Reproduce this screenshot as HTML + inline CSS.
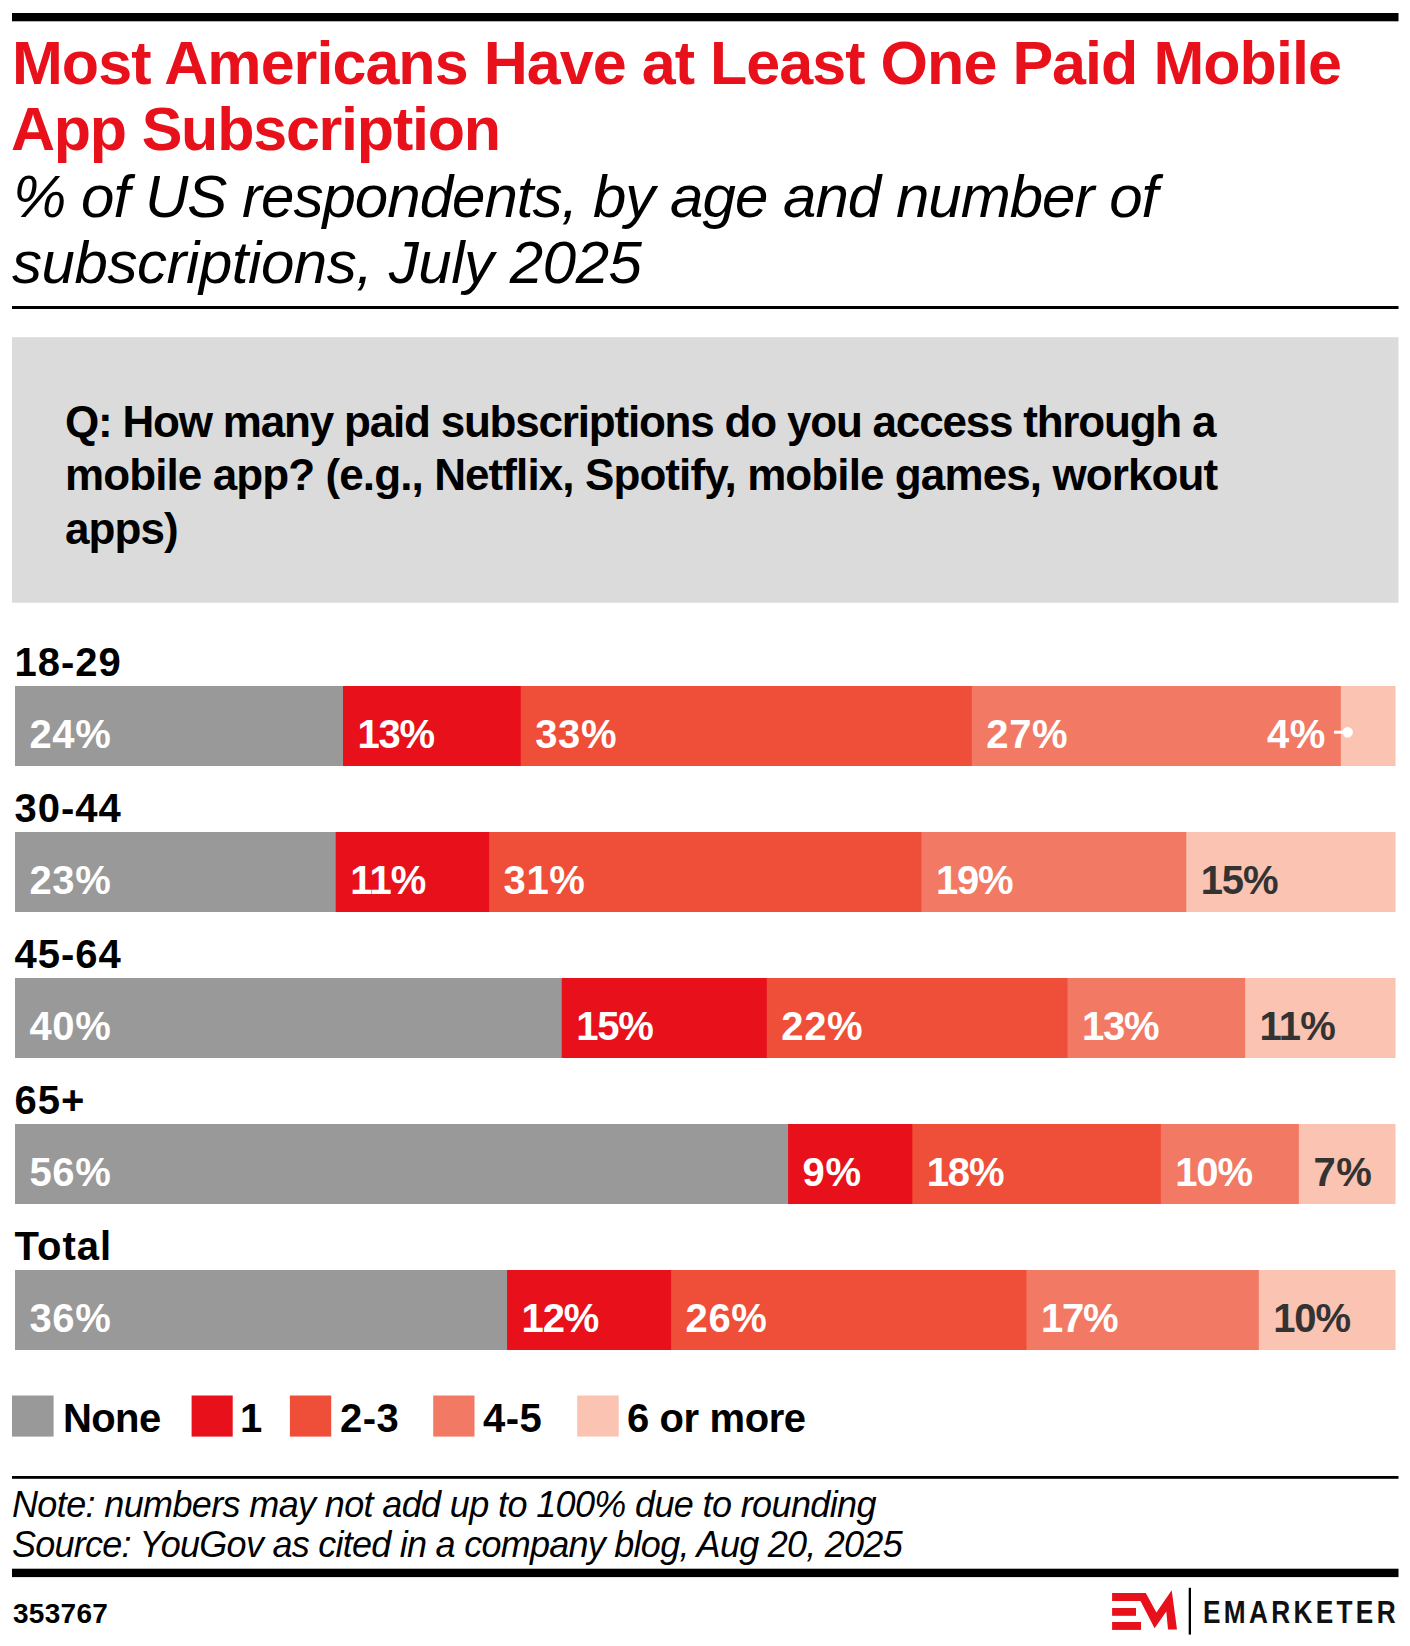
<!DOCTYPE html>
<html><head><meta charset="utf-8">
<style>
html,body{margin:0;padding:0;background:#fff;}
body{width:1410px;height:1646px;position:relative;overflow:hidden;font-family:"Liberation Sans",sans-serif;}
.t{position:absolute;white-space:nowrap;line-height:1;}
svg{position:absolute;left:0;top:0;}
.title{font-weight:bold;font-size:61px;color:#E8111B;}
.sub{font-style:italic;font-size:60px;color:#000;}
.q{font-weight:bold;font-size:44px;color:#000;}
.rl{font-weight:bold;font-size:40px;color:#000;left:14.5px;letter-spacing:1px;}
.vl{font-weight:bold;font-size:40px;color:#fff;letter-spacing:0.6px;}
.vl.dk{color:#333;}
.lg{font-weight:bold;font-size:40px;color:#000;top:1398.1px;}
.note{font-style:italic;font-size:36px;color:#000;left:12px;}
.id{font-weight:bold;font-size:28px;color:#000;left:13px;top:1600.2px;letter-spacing:0.3px;}
.em{font-weight:bold;font-size:30.5px;color:#111;left:1202.5px;top:1596.7px;letter-spacing:3.85px;transform:scaleX(0.86);transform-origin:0 0;}
</style></head><body>
<svg width="1410" height="1646" viewBox="0 0 1410 1646">
<rect x="12" y="13" width="1386.5" height="8.3" fill="#000"/>
<rect x="12" y="306" width="1386.5" height="3" fill="#000"/>
<rect x="12" y="337.2" width="1386.5" height="265.5" fill="#DBDBDB"/>
<rect x="15.00" y="686" width="329.04" height="80" fill="#999999"/><rect x="343.04" y="686" width="178.69" height="80" fill="#E8111B"/><rect x="520.73" y="686" width="452.05" height="80" fill="#EF4E38"/><rect x="971.78" y="686" width="370.04" height="80" fill="#F27A65"/><rect x="1340.83" y="686" width="54.67" height="80" fill="#FAC3B2"/><rect x="15.00" y="832" width="321.72" height="80" fill="#999999"/><rect x="335.72" y="832" width="154.39" height="80" fill="#E8111B"/><rect x="489.11" y="832" width="433.28" height="80" fill="#EF4E38"/><rect x="921.39" y="832" width="265.94" height="80" fill="#F27A65"/><rect x="1186.33" y="832" width="209.17" height="80" fill="#FAC3B2"/><rect x="15.00" y="978" width="547.73" height="80" fill="#999999"/><rect x="561.73" y="978" width="206.02" height="80" fill="#E8111B"/><rect x="766.76" y="978" width="301.70" height="80" fill="#EF4E38"/><rect x="1067.46" y="978" width="178.69" height="80" fill="#F27A65"/><rect x="1245.15" y="978" width="150.35" height="80" fill="#FAC3B2"/><rect x="15.00" y="1124" width="774.08" height="80" fill="#999999"/><rect x="788.08" y="1124" width="125.25" height="80" fill="#E8111B"/><rect x="912.33" y="1124" width="249.49" height="80" fill="#EF4E38"/><rect x="1160.82" y="1124" width="139.05" height="80" fill="#F27A65"/><rect x="1298.87" y="1124" width="96.63" height="80" fill="#FAC3B2"/><rect x="15.00" y="1270" width="493.06" height="80" fill="#999999"/><rect x="507.06" y="1270" width="165.02" height="80" fill="#E8111B"/><rect x="671.08" y="1270" width="356.38" height="80" fill="#EF4E38"/><rect x="1026.46" y="1270" width="233.36" height="80" fill="#F27A65"/><rect x="1258.82" y="1270" width="136.68" height="80" fill="#FAC3B2"/>
<circle cx="1347.6" cy="732.2" r="5.3" fill="#fff"/>
<rect x="1334" y="730.7" width="13" height="3" fill="#fff"/>
<rect x="12" y="1395.5" width="41.6" height="41.1" fill="#999999"/>
<rect x="191.6" y="1395.5" width="41.1" height="41.1" fill="#E8111B"/>
<rect x="289.9" y="1395.5" width="41.3" height="41.1" fill="#EF4E38"/>
<rect x="433.2" y="1395.5" width="41.3" height="41.1" fill="#F27A65"/>
<rect x="577.2" y="1395.5" width="41.5" height="41.1" fill="#FAC3B2"/>
<rect x="12" y="1476" width="1386.5" height="2.8" fill="#000"/>
<rect x="12" y="1568.7" width="1386.5" height="8.4" fill="#000"/>
<g transform="translate(1105,1580)">
<path d="M7.1,13.1 L40.8,13.1 L51.4,32.6 L66.7,10.3 L72,49.6 L63,49.6 L61.3,31.6 L49.6,48.2 L35.5,20.9 L7.1,20.9 Z" fill="#E8111B"/>
<rect x="7.1" y="28" width="23.9" height="7.8" fill="#E8111B"/>
<rect x="7.1" y="42" width="28.9" height="7.9" fill="#E8111B"/>
<rect x="83.7" y="7.8" width="2.3" height="46.8" fill="#000"/>
</g>
</svg>
<div class="t title" style="left:12px;top:33px;letter-spacing:-0.95px">Most Americans Have at Least One Paid Mobile</div>
<div class="t title" style="left:11px;top:99.2px;letter-spacing:-1.22px">App Subscription</div>
<div class="t sub" style="left:13px;top:166.5px;letter-spacing:-0.97px">% of US respondents, by age and number of</div>
<div class="t sub" style="left:12px;top:233px;letter-spacing:-0.45px">subscriptions, July 2025</div>
<div class="t q" style="left:65px;top:399.5px;letter-spacing:-1.2px">Q: How many paid subscriptions do you access through a</div>
<div class="t q" style="left:65px;top:453px;letter-spacing:-0.9px">mobile app? (e.g., Netflix, Spotify, mobile games, workout</div>
<div class="t q" style="left:65px;top:506.5px;letter-spacing:-0.9px">apps)</div>
<div class="t rl" style="top:642.1px">18-29</div>
<div class="t vl" style="left:29.5px;top:714.2px;letter-spacing:0.6px">24%</div>
<div class="t vl" style="left:357.5px;top:714.2px;letter-spacing:-1.2px">13%</div>
<div class="t vl" style="left:535.2px;top:714.2px;letter-spacing:0.6px">33%</div>
<div class="t vl" style="left:986.3px;top:714.2px;letter-spacing:0.6px">27%</div>
<div class="t rl" style="top:788.1px">30-44</div>
<div class="t vl" style="left:29.5px;top:860.2px;letter-spacing:0.6px">23%</div>
<div class="t vl" style="left:350.2px;top:860.2px;letter-spacing:-0.8px">11%</div>
<div class="t vl" style="left:503.6px;top:860.2px;letter-spacing:0.6px">31%</div>
<div class="t vl" style="left:935.9px;top:860.2px;letter-spacing:-1.2px">19%</div>
<div class="t vl dk" style="left:1200.8px;top:860.2px;letter-spacing:-1.2px">15%</div>
<div class="t rl" style="top:934.1px">45-64</div>
<div class="t vl" style="left:29.5px;top:1006.2px;letter-spacing:0.6px">40%</div>
<div class="t vl" style="left:576.2px;top:1006.2px;letter-spacing:-1.2px">15%</div>
<div class="t vl" style="left:781.3px;top:1006.2px;letter-spacing:0.6px">22%</div>
<div class="t vl" style="left:1082.0px;top:1006.2px;letter-spacing:-1.2px">13%</div>
<div class="t vl dk" style="left:1259.6px;top:1006.2px;letter-spacing:-0.8px">11%</div>
<div class="t rl" style="top:1080.1px">65+</div>
<div class="t vl" style="left:29.5px;top:1152.2px;letter-spacing:0.6px">56%</div>
<div class="t vl" style="left:802.6px;top:1152.2px;letter-spacing:0.6px">9%</div>
<div class="t vl" style="left:926.8px;top:1152.2px;letter-spacing:-1.2px">18%</div>
<div class="t vl" style="left:1175.3px;top:1152.2px;letter-spacing:-1.2px">10%</div>
<div class="t vl dk" style="left:1313.4px;top:1152.2px;letter-spacing:0.6px">7%</div>
<div class="t rl" style="top:1226.1px">Total</div>
<div class="t vl" style="left:29.5px;top:1298.2px;letter-spacing:0.6px">36%</div>
<div class="t vl" style="left:521.6px;top:1298.2px;letter-spacing:-1.2px">12%</div>
<div class="t vl" style="left:685.6px;top:1298.2px;letter-spacing:0.6px">26%</div>
<div class="t vl" style="left:1041.0px;top:1298.2px;letter-spacing:-1.2px">17%</div>
<div class="t vl dk" style="left:1273.3px;top:1298.2px;letter-spacing:-1.2px">10%</div>
<div class="t vl" style="left:1267px;top:714.2px">4%</div>
<div class="t lg" style="left:63px;letter-spacing:-0.6px">None</div>
<div class="t lg" style="left:240px">1</div>
<div class="t lg" style="left:340px;letter-spacing:0.5px">2-3</div>
<div class="t lg" style="left:483px;letter-spacing:0.5px">4-5</div>
<div class="t lg" style="left:627px;letter-spacing:-0.4px">6 or more</div>
<div class="t note" style="top:1486.9px;letter-spacing:-0.63px">Note: numbers may not add up to 100% due to rounding</div>
<div class="t note" style="top:1526.5px;letter-spacing:-0.74px">Source: YouGov as cited in a company blog, Aug 20, 2025</div>
<div class="t id">353767</div>
<div class="t em">EMARKETER</div>
</body></html>
